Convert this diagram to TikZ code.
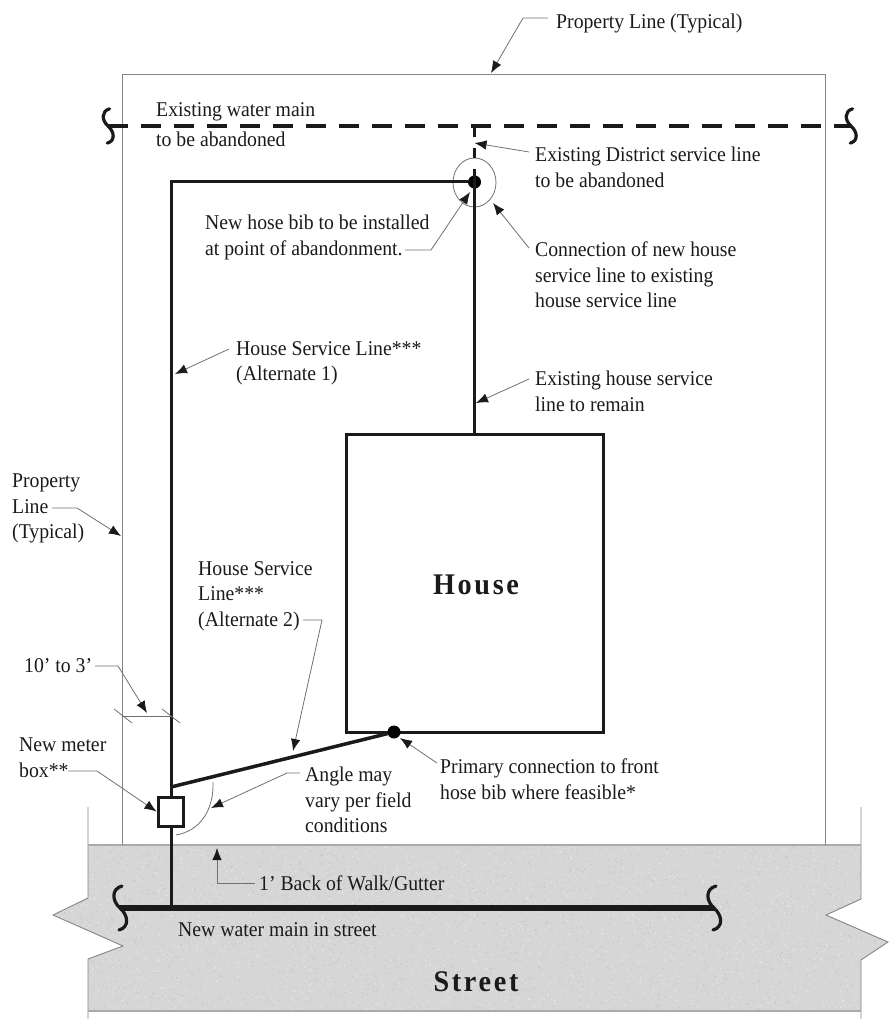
\documentclass[tikz,border=0pt]{standalone}
\usepackage{fontspec}
\setmainfont[FakeStretch=0.94]{Liberation Serif}
\usetikzlibrary{arrows.meta,shapes.geometric}
\definecolor{inkblack}{HTML}{1A1A1A}
\definecolor{leadergray}{HTML}{707070}
\definecolor{edgegray}{HTML}{858585}
\definecolor{streetgray}{HTML}{D6D6D6}
\tikzset{
  lbl/.style={anchor=north west,inner sep=0pt,align=left,text=inkblack,font=\fontsize{21}{25.5}\selectfont},
  leader/.style={draw=leadergray,line width=0.8pt,-{Latex[length=12pt,width=9.5pt,color=inkblack]}},
  thin gray/.style={draw=leadergray,line width=0.8pt},
  edge/.style={draw=edgegray,line width=0.9pt},
  curb/.style={draw=edgegray!70,line width=1.5pt},
  pipe/.style={draw=inkblack,line width=3pt},
  bigname/.style={inner sep=0pt,text=inkblack,font=\fontsize{30}{34}\selectfont\bfseries\addfontfeature{LetterSpace=9}},
  squig/.pic={\draw[inkblack,line width=3.2pt,line cap=round] (2,-22) .. controls (-9,-19) and (-8,-7) .. (0,0) .. controls (8,7) and (10,19) .. (-1,22);}
}
\begin{document}
\begin{tikzpicture}[x=1pt,y=-1pt]
  \useasboundingbox (0,0) rectangle (888,1019);
  % street
  \fill[streetgray] (88,845) -- (861,845) -- (861,899) -- (826,915) -- (888,942) -- (861,960) -- (861,1011)
    -- (88,1011) -- (88,959) -- (123,946) -- (53,915) -- (88,898) -- cycle;
  \begin{scope}
    \clip (88,845) -- (861,845) -- (861,899) -- (826,915) -- (888,942) -- (861,960) -- (861,1011)
      -- (88,1011) -- (88,959) -- (123,946) -- (53,915) -- (88,898) -- cycle;
    \pgfmathsetseed{11}
    \foreach \i in {1,...,2500} {
      \pgfmathsetmacro{\dotx}{53+835*rnd}
      \pgfmathsetmacro{\doty}{845+166*rnd}
      \fill[black!22] (\dotx,\doty) circle (0.7pt);
      \pgfmathsetmacro{\dotx}{53+835*rnd}
      \pgfmathsetmacro{\doty}{845+166*rnd}
      \fill[black!9] (\dotx,\doty) circle (0.7pt);
    }
  \end{scope}
  \draw[edge] (88,807) -- (88,898) -- (53,915) -- (123,946) -- (88,959) -- (88,1019);
  \draw[edge] (861,807) -- (861,899) -- (826,915) -- (888,942) -- (861,960) -- (861,1019);
  \draw[curb] (88,845) -- (861,845);
  \draw[curb] (88,1011) -- (861,1011);
  \node[bigname] (street) at (476,982) {Street};
  % property line
  \draw[edge] (122,845) -- (122,74) -- (825,74) -- (825,845);
  % mains
  \coordinate (oldL) at (108,126);
  \coordinate (oldR) at (851,126);
  \draw[inkblack,line width=4.5pt,dash pattern=on 20pt off 13pt] (oldL) -- (oldR);
  \pic at (oldL) [scale=0.78] {squig};
  \pic at (oldR) [scale=0.78] {squig};
  \coordinate (mainL) at (120,908);
  \coordinate (mainR) at (714,908);
  \draw[inkblack,line width=6pt] (mainL) -- (mainR);
  \pic at (mainL) {squig};
  \pic at (mainR) {squig};
  % house and service lines
  \node[draw=inkblack,line width=3pt,minimum width=257pt,minimum height=298pt,inner sep=0pt] (house) at (474.5,583) {};
  \node[bigname] (houseName) at (476,585) {House};
  \node[circle,fill=black,minimum size=13pt,inner sep=0pt] (bib) at (474.5,182) {};
  \node[circle,fill=black,minimum size=13pt,inner sep=0pt] (front) at (394,732) {};
  \node[thin gray,ellipse,minimum width=43pt,minimum height=49pt,inner sep=0pt] (ring) at (474.5,182.5) {};
  \coordinate (corner) at (171,182);
  \coordinate (tee) at (171,787);
  \coordinate (stubTop) at (474.5,127);
  \coordinate (stubEnd) at (474.5,169);
  \coordinate (mainTee) at (171,908);
  \draw[pipe] (stubEnd) -- (house.north);
  \draw[pipe,dash pattern=on 10pt off 11pt] (stubTop) -- (stubEnd);
  \draw[pipe] (bib) -- (corner) -- (mainTee);
  \draw[inkblack,line width=3.5pt] (tee) -- (front);
  \node[draw=inkblack,fill=white,line width=3pt,minimum width=25pt,minimum height=29pt,inner sep=0pt] (meter) at (170.5,811.5) {};
  % dimension and angle
  \coordinate (dimL) at (122,716);
  \coordinate (dimR) at (171,716);
  \draw[thin gray] (dimL) -- (dimR);
  \draw[thin gray] (114,709) -- (132,723);
  \draw[thin gray] (162,709) -- (180,723);
  \draw[thin gray] (213,782) .. controls (214,810) and (200,831) .. (176,835);
  % labels
  \node[lbl] (lblTop) at (556,14) {Property Line (Typical)};
  \node[lbl] (lblOldMain) at (156,102) {Existing water main\\[5pt]to be abandoned};
  \node[lbl] (lblDistrict) at (535,147) {Existing District service line\\to be abandoned};
  \node[lbl] (lblBib) at (205,215) {New hose bib to be installed\\at point of abandonment.};
  \node[lbl] (lblConn) at (535,242) {Connection of new house\\service line to existing\\house service line};
  \node[lbl] (lblAlt1) at (236,341) {House Service Line***\\(Alternate 1)};
  \node[lbl] (lblRemain) at (535,371) {Existing house service\\line to remain};
  \node[lbl] (lblSide) at (12,474) {Property\\Line\\(Typical)};
  \node[lbl] (lblAlt2) at (198,561) {House Service\\Line***\\(Alternate 2)};
  \node[lbl] (lblDim) at (24,658) {10’ to 3’};
  \node[lbl] (lblMeter) at (19,738) {New meter\\box**};
  \node[lbl] (lblAngle) at (305,767) {Angle may\\vary per field\\conditions};
  \node[lbl] (lblFront) at (440,759) {Primary connection to front\\hose bib where feasible*};
  \node[lbl] (lblWalk) at (259,876) {1’ Back of Walk/Gutter};
  \node[lbl] (lblNewMain) at (178,922) {New water main in street};
  % leaders
  \coordinate (topFrom) at (548,18);
  \coordinate (topBend) at (523,18);
  \coordinate (topTip) at (491,73);
  \draw[leader] (topFrom) -- (topBend) -- (topTip);
  \coordinate (distFrom) at (529,152);
  \coordinate (distTip) at (474.5,143);
  \draw[leader] (distFrom) -- (distTip);
  \coordinate (bibFrom) at (405,250);
  \coordinate (bibBend) at (431,250);
  \coordinate (bibTip) at (470,192);
  \draw[leader] (bibFrom) -- (bibBend) -- (bibTip);
  \coordinate (connFrom) at (529,248);
  \coordinate (connTip) at (493,203);
  \draw[leader] (connFrom) -- (connTip);
  \coordinate (altaFrom) at (229,349);
  \coordinate (altaTip) at (175,374);
  \draw[leader] (altaFrom) -- (altaTip);
  \coordinate (remFrom) at (529,379);
  \coordinate (remTip) at (476,403);
  \draw[leader] (remFrom) -- (remTip);
  \coordinate (sideFrom) at (52,508);
  \coordinate (sideBend) at (77,508);
  \coordinate (sideTip) at (121,536);
  \draw[leader] (sideFrom) -- (sideBend) -- (sideTip);
  \coordinate (altbFrom) at (303,620);
  \coordinate (altbBend) at (322,620);
  \coordinate (altbTip) at (293,751);
  \draw[leader] (altbFrom) -- (altbBend) -- (altbTip);
  \coordinate (dimFrom) at (95,666);
  \coordinate (dimBend) at (118,666);
  \coordinate (dimTip) at (147,713);
  \draw[leader] (dimFrom) -- (dimBend) -- (dimTip);
  \coordinate (meterFrom) at (68,771);
  \coordinate (meterBend) at (97,771);
  \draw[leader] (meterFrom) -- (meterBend) -- (meter.west);
  \coordinate (angFrom) at (300,773);
  \coordinate (angBend) at (287,773);
  \coordinate (angTip) at (211,808);
  \draw[leader] (angFrom) -- (angBend) -- (angTip);
  \coordinate (walkTip) at (217,848);
  \draw[leader] ([xshift=-4pt]lblWalk.west) -| (walkTip);
  \coordinate (frontFrom) at (437,763);
  \coordinate (frontTip) at (400,738);
  \draw[leader] (frontFrom) -- (frontTip);
\end{tikzpicture}
\end{document}
